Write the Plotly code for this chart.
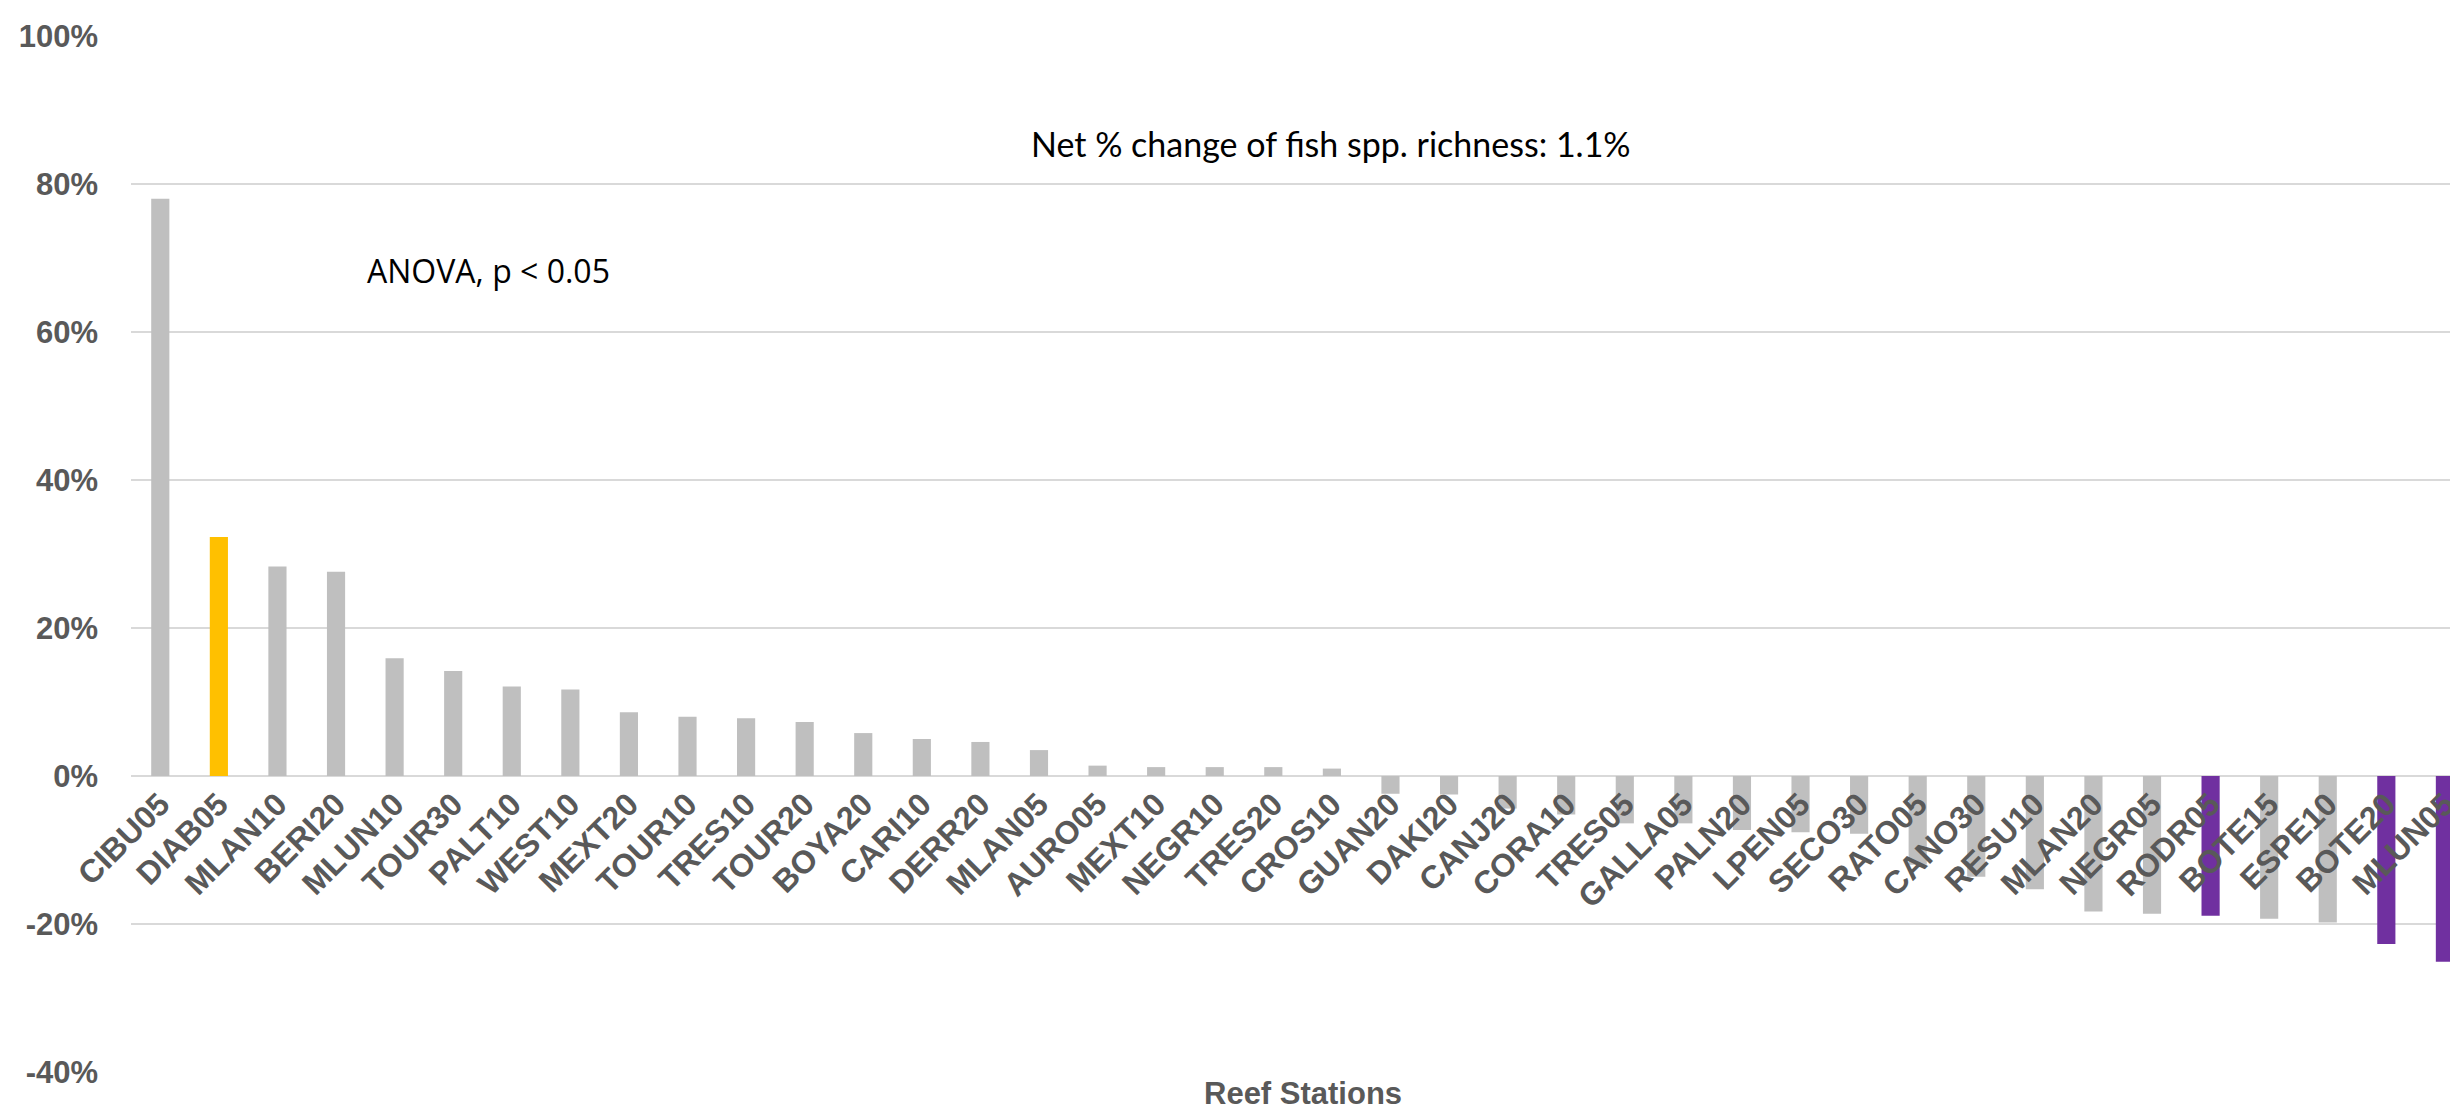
import plotly.graph_objects as go

stations = ["CIBU05", "DIAB05", "MLAN10", "BERI20", "MLUN10", "TOUR30", "PALT10", "WEST10",
            "MEXT20", "TOUR10", "TRES10", "TOUR20", "BOYA20", "CARI10", "DERR20", "MLAN05",
            "AURO05", "MEXT10", "NEGR10", "TRES20", "CROS10", "GUAN20", "DAKI20", "CANJ20",
            "CORA10", "TRES05", "GALLA05", "PALN20", "LPEN05", "SECO30", "RATO05", "CANO30",
            "RESU10", "MLAN20", "NEGR05", "RODR05", "BOTE15", "ESPE10", "BOTE20", "MLUN05"]

pct_change = [78.0, 32.3, 28.3, 27.6, 15.9, 14.2, 12.1, 11.7,
              8.6, 8.0, 7.8, 7.3, 5.8, 5.0, 4.6, 3.5,
              1.4, 1.2, 1.2, 1.2, 1.0, -2.4, -2.5, -4.4,
              -5.2, -6.4, -6.4, -7.3, -7.6, -7.8, -12.0, -13.6,
              -15.3, -18.3, -18.6, -18.9, -19.3, -19.8, -22.7, -25.1]

highlight_up = ["DIAB05"]
highlight_down = ["RODR05", "BOTE20", "MLUN05"]

y_ticks = [-0.4, -0.2, 0.0, 0.2, 0.4, 0.6, 0.8, 1.0]
y_tick_labels = ["-40%", "-20%", "0%", "20%", "40%", "60%", "80%", "100%"]

GREY = "#BFBFBF"
GOLD = "#FFC000"
PURPLE = "#7030A0"
TXT = "#595959"

colors = [GOLD if s in highlight_up else PURPLE if s in highlight_down else GREY for s in stations]

fig = go.Figure(go.Bar(
    x=stations,
    y=[v / 100 for v in pct_change],
    marker=dict(color=colors, line=dict(width=0)),
    hoverinfo="x+y",
))

fig.update_layout(
    width=2458, height=1111,
    margin=dict(l=123, r=0, t=28, b=47),
    paper_bgcolor="white", plot_bgcolor="white",
    bargap=0.69,
    showlegend=False,
    font=dict(family="Liberation Sans, Arial, sans-serif", color=TXT),
    xaxis=dict(
        type="category",
        range=[-0.5, 39.36],
        tickmode="linear", dtick=1,
        tickangle=-45,
        tickfont=dict(size=32, color=TXT, family="Liberation Sans, Arial, sans-serif", weight="bold"),
        showgrid=False, showline=False, zeroline=False,
        ticks="", ticklabelstandoff=2,
        anchor="free", position=0.4 / 1.4,
    ),
    yaxis=dict(
        range=[-0.4, 1.0],
        tickmode="array",
        tickvals=y_ticks,
        ticktext=y_tick_labels,
        tickfont=dict(size=31, color=TXT, family="Liberation Sans, Arial, sans-serif", weight="bold"),
        showgrid=True, gridcolor="#D9D9D9", gridwidth=2,
        zeroline=True, zerolinecolor="#D9D9D9", zerolinewidth=2,
        showline=False, ticks="", ticklabelstandoff=32,
    ),
    annotations=[
        dict(text="ANOVA, p < 0.05", xref="paper", yref="paper", x=0.1533, y=0.7732,
             showarrow=False, xanchor="center", yanchor="middle",
             font=dict(family="Open Sans, sans-serif", size=32, color="black")),
        dict(text="Net % change of fish spp. richness: 1.1%", xref="paper", yref="paper",
             x=0.5139, y=0.8967, showarrow=False, xanchor="center", yanchor="middle",
             font=dict(family="Lato, sans-serif", size=34, color="black")),
        dict(text="<b>Reef Stations</b>", xref="paper", yref="paper", x=0.502, y=-0.0203,
             showarrow=False, xanchor="center", yanchor="middle",
             font=dict(family="Liberation Sans, Arial, sans-serif", size=31, color=TXT)),
    ],
)

fig.write_html("out.html")
